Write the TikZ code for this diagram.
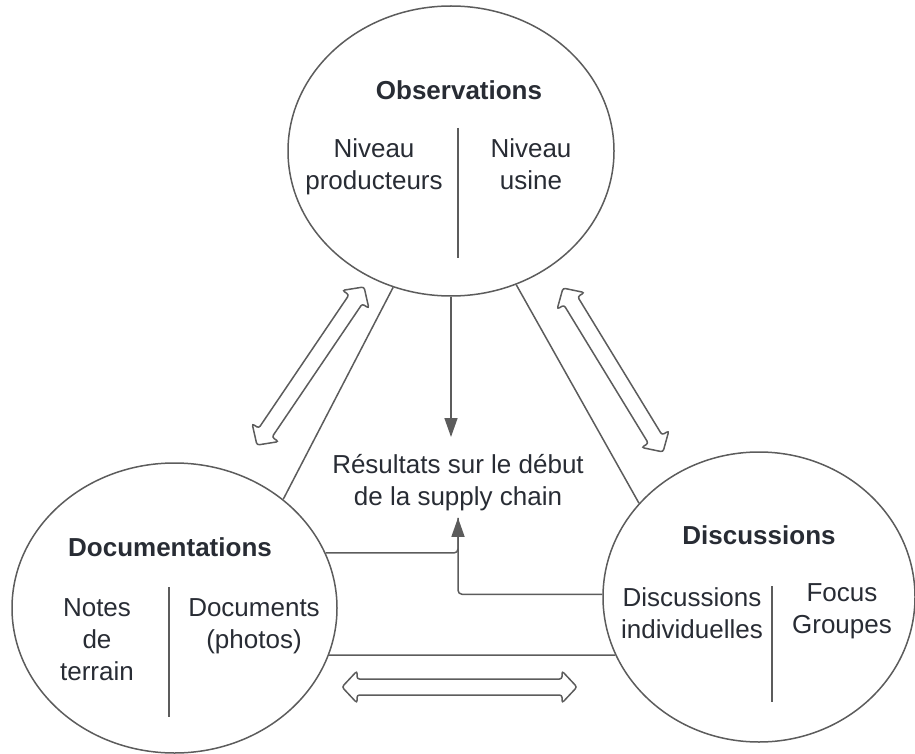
\documentclass[tikz,border=0pt]{standalone}
\usepackage{fontspec}
\setmainfont{Liberation Sans}
\usetikzlibrary{arrows.meta,shapes.geometric}
\definecolor{linec}{HTML}{5C5C5C}
\definecolor{textc}{HTML}{282C34}

% hollow two-headed block arrow: centre x, centre y, angle, length
\newcommand\hollowarrow[4]{%
  \begin{scope}[shift={(#1,#2)}, rotate=#3]
    \draw[hollow] ({-#4/2},0) -- ({-#4/2+15},16) -- ({-#4/2+15},8) -- ({#4/2-15},8)
      -- ({#4/2-15},16) -- ({#4/2},0) -- ({#4/2-15},-16) -- ({#4/2-15},-8)
      -- ({-#4/2+15},-8) -- ({-#4/2+15},-16) -- cycle;
  \end{scope}}

\begin{document}
\begin{tikzpicture}[x=1pt,y=-1pt,
  every node/.style={text=textc, font=\fontsize{26}{32}\selectfont, inner sep=0pt},
  blob/.style={ellipse, draw=linec, line width=1.5pt, minimum height=290pt},
  title/.style={font=\fontsize{26}{32}\selectfont\bfseries, anchor=north},
  cell/.style={align=center, anchor=north},
  divider/.style={draw=linec, line width=1.5pt},
  conn/.style={draw=linec, line width=1.5pt},
  arr/.style={conn, -{Triangle[length=19pt,width=13pt]}},
  hollow/.style={draw=linec, line width=1.5pt, rounded corners=2.5pt, fill=white}]

\useasboundingbox (0,0) rectangle (915,754);

% the three sources
\node[blob, minimum width=326pt] (obs) at (451,151) {};
\node[blob, minimum width=325pt] (doc) at (174.5,608) {};
\node[blob, minimum width=312pt] (disc) at (759,597) {};

% Observations
\node[title] (obsT) at (459,80.7) {Observations};
\node[cell] (obsL) at (374,138.7) {Niveau\\producteurs};
\node[cell] (obsR) at (531,138.7) {Niveau\\usine};
\draw[divider] (458,128) -- (458,258);

% Documentations
\node[title] (docT) at (170,537.7) {Documentations};
\node[cell] (docL) at (97,598.7) {Notes\\de\\terrain};
\node[cell] (docR) at (254,598.7) {Documents\\(photos)};
\draw[divider] (169,587) -- (169,717);

% Discussions
\node[title] (discT) at (759,525.7) {Discussions};
\node[cell] (discL) at (692,587.7) {Discussions\\individuelles};
\node[cell] (discR) at (842,583.7) {Focus\\Groupes};
\draw[divider] (772,586) -- (772,702);

% outcome
\node[cell] (res) at (458,453.7) {Résultats sur le début\\de la supply chain};

% triangle sides
\draw[conn] (obs.247.8) -- (doc.45.9);
\draw[conn] (obs.296.6) -- (disc.142.2);
\draw[conn] (doc.-17.8) -- (disc.202.9);

% flows into the outcome
\draw[arr, shorten >=16.7pt] (obs.south) -- (obs.south |- res.north);
\draw[conn, rounded corners=4pt, shorten >=7.2pt] (doc.20.5) -| (res.south);
\draw[arr, rounded corners=4pt, shorten >=7.2pt] (disc.179.2) -| (res.south);

% exchanges between the sources
\hollowarrow{310.5}{366}{55.9}{191}
\hollowarrow{613}{370}{-58.6}{192}
\hollowarrow{459.5}{687}{0}{235}
\end{tikzpicture}
\end{document}
